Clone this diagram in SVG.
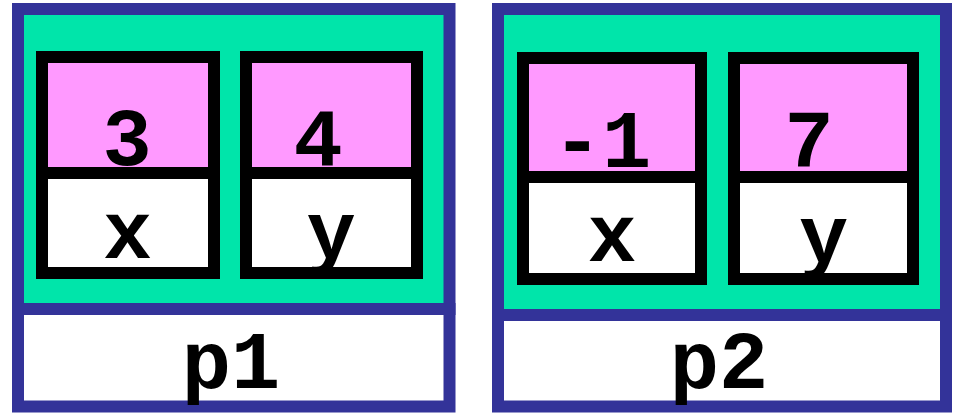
<svg xmlns="http://www.w3.org/2000/svg" width="956" height="413" viewBox="0 0 956 413">
<style>
.outer{fill:#00E5AA;stroke:#333399;stroke-width:12}
.lbl{fill:#ffffff;stroke:#333399;stroke-width:12}
.val{fill:#FF99FF;stroke:#000;stroke-width:12}
.name{fill:#ffffff;stroke:#000;stroke-width:12}
text{font-family:"Courier New","Liberation Mono",monospace;font-weight:bold;font-size:82px;fill:#000;text-anchor:middle}
</style>
<rect width="956" height="413" fill="#fff"/>
<g id="p1">
  <rect class="outer" x="18" y="9" width="431.5" height="300"/>
  <rect class="lbl" x="18" y="309" width="431.5" height="97.5"/>
  <text x="231" y="388">p1</text>
  <g id="p1x">
    <rect class="val" x="42" y="57" width="172" height="116"/>
    <rect class="name" x="42" y="173" width="172" height="100"/>
    <text x="127" y="165">3</text>
    <text x="127.5" y="258">x</text>
  </g>
  <g id="p1y">
    <rect class="val" x="246" y="57" width="171" height="116"/>
    <rect class="name" x="246" y="173" width="171" height="100"/>
    <text x="318" y="165">4</text>
    <text x="331" y="258">y</text>
  </g>
</g>
<g id="p2">
  <rect class="outer" x="498" y="9" width="448" height="306"/>
  <rect class="lbl" x="498" y="315" width="448" height="91.5"/>
  <text x="719" y="388">p2</text>
  <g id="p2x">
    <rect class="val" x="523" y="58" width="178" height="119"/>
    <rect class="name" x="523" y="177" width="178" height="102"/>
    <text x="602" y="167">-1</text>
    <text x="612" y="261">x</text>
  </g>
  <g id="p2y">
    <rect class="val" x="734" y="58" width="179" height="119"/>
    <rect class="name" x="734" y="177" width="179" height="102"/>
    <text x="809" y="167">7</text>
    <text x="823.5" y="262">y</text>
  </g>
</g>
<g id="connectors"/>
</svg>
